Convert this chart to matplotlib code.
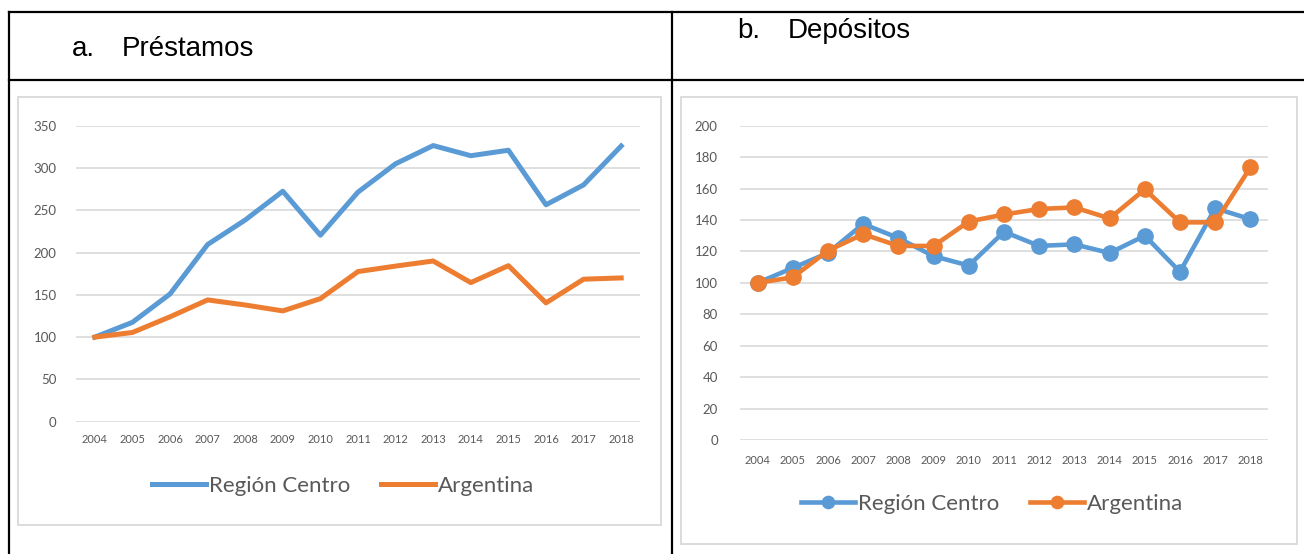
import matplotlib
matplotlib.use("Agg")
import matplotlib.pyplot as plt
from matplotlib.patches import Rectangle
from matplotlib.lines import Line2D

years = [str(y) for y in range(2004, 2019)]

prestamos_region = [100, 117.5, 151, 209.5, 238.5, 272.5, 220.5, 271.5, 305, 326.5, 314.5, 321, 256.5, 280, 326]
prestamos_arg = [100, 105.5, 124, 144, 138, 131, 145.5, 177.5, 184, 190, 164.5, 184.5, 140.5, 168.5, 170]

depositos_region = [100, 109.5, 119, 137.5, 128.5, 117, 111, 132.5, 123.5, 124.5, 119, 130, 107, 147.5, 140.5]
depositos_arg = [100, 103.5, 120.5, 131, 123.5, 123.5, 139, 143.5, 147, 148, 141, 159.5, 138.5, 138.5, 173.5]

series_names = ["Región Centro", "Argentina"]
header_a = ("a.", "Préstamos")
header_b = ("b.", "Depósitos")

BLUE = "#5B9BD5"
ORANGE = "#ED7D31"
GRID = "#D9D9D9"
TXT = "#595959"

W, H = 1304, 554
fig = plt.figure(figsize=(W / 100, H / 100), dpi=100)
plt.rcParams['font.family'] = ['Lato', 'DejaVu Sans']


def fx(x):
    return x / W


def fy(y):
    return 1 - y / H


def add_axes(x0, y0, x1, y1):
    return fig.add_axes([fx(x0), fy(y1), fx(x1 - x0), (y1 - y0) / H])


# table lines
for (xa, ya, xb, yb) in [(9, 12, W, 12), (9, 80, W, 80), (9, 12, 9, H), (672, 12, 672, H)]:
    fig.add_artist(Line2D([fx(xa), fx(xb)], [fy(ya), fy(yb)], color="black", lw=1.6,
                          transform=fig.transFigure))

# chart boxes
for (xa, ya, xb, yb) in [(17.5, 97, 661, 524.5), (681, 97, 1297, 543.5)]:
    fig.add_artist(Rectangle((fx(xa), fy(yb)), fx(xb - xa), (yb - ya) / H, fill=False,
                             edgecolor=GRID, lw=1.3, transform=fig.transFigure))

# headers
HFS = 20
fig.text(fx(72), fy(56), header_a[0], fontsize=HFS, family="Liberation Sans", va="baseline", ha="left")
fig.text(fx(121.5), fy(56), header_a[1], fontsize=HFS, family="Liberation Sans", va="baseline", ha="left")
fig.text(fx(737), fy(37.5), header_b[0], fontsize=HFS, family="Liberation Sans", va="baseline", ha="left")
fig.text(fx(788), fy(37.5), header_b[1], fontsize=HFS, family="Liberation Sans", va="baseline", ha="left")


def style(ax, ymax, step, xpad, ypad):
    ax.set_xlim(-0.5, len(years) - 0.5)
    ax.set_ylim(0, ymax)
    ax.set_yticks(range(0, ymax + 1, step))
    ax.set_xticks(range(len(years)))
    ax.set_xticklabels(years)
    for s in ax.spines.values():
        s.set_visible(False)
    ax.yaxis.grid(True, color=GRID, lw=1.2)
    ax.set_axisbelow(True)
    ax.tick_params(axis="both", length=0, colors=TXT)
    ax.tick_params(axis="x", labelsize=8, pad=xpad)
    ax.tick_params(axis="y", labelsize=9.5, pad=ypad)
    ax.patch.set_alpha(0)


x = list(range(len(years)))
LEG = dict(loc="center", bbox_transform=fig.transFigure, ncol=2, frameon=False, fontsize=16,
           labelcolor=TXT, handlelength=2.45, handletextpad=0.14, columnspacing=1.35)

# left chart
ax1 = add_axes(76, 125.7, 640, 421.7)
style(ax1, 350, 50, 9, 14)
ax1.plot(x, prestamos_region, color=BLUE, lw=3.6, solid_joinstyle="round", label=series_names[0])
ax1.plot(x, prestamos_arg, color=ORANGE, lw=3.6, solid_joinstyle="round", label=series_names[1])
ax1.legend(bbox_to_anchor=(fx(343), fy(486)), **LEG)

# right chart
ax2 = add_axes(740, 125.7, 1268, 440)
style(ax2, 200, 20, 11, 16)
ax2.plot(x, depositos_region, color=BLUE, lw=3.3, marker="o", ms=11, solid_joinstyle="round",
         label=series_names[0])
ax2.plot(x, depositos_arg, color=ORANGE, lw=3.3, marker="o", ms=11, solid_joinstyle="round",
         label=series_names[1])
ax2.legend(bbox_to_anchor=(fx(992), fy(504)), markerscale=0.8, **LEG)

fig.savefig("out.png", dpi=100)
